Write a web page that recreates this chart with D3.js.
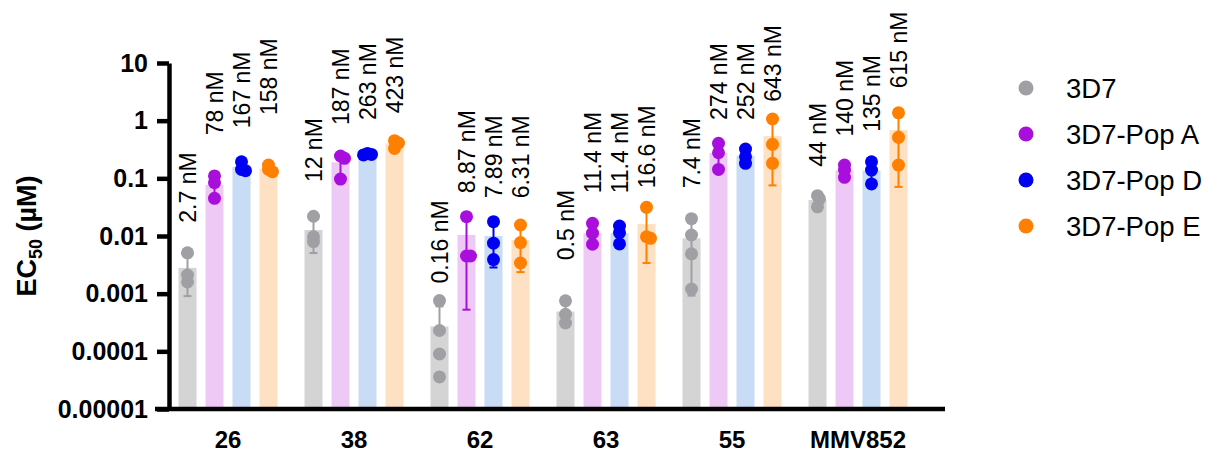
<!DOCTYPE html>
<html>
<head>
<meta charset="utf-8">
<script src="https://cdn.jsdelivr.net/npm/d3@7"></script>
<style>
  html, body { margin: 0; padding: 0; background: #fff; }
  svg { display: block; }
  text { font-family: "Liberation Sans", Arial, sans-serif; }
</style>
</head>
<body>
<svg id="chart" width="1208" height="453"></svg>
<script>
// ---------------- data ----------------
const groups = ["26", "38", "62", "63", "55", "MMV852"];
const seriesNames = ["3D7", "3D7-Pop A", "3D7-Pop D", "3D7-Pop E"];

// bar heights (mean EC50, µM)
const mean3D7  = [0.0028, 0.0127, 0.00027, 0.00049, 0.0091, 0.042];
const meanPopA = [0.077, 0.19, 0.0104, 0.0112, 0.275, 0.138];
const meanPopD = [0.158, 0.255, 0.0100, 0.0112, 0.247, 0.137];
const meanPopE = [0.148, 0.40, 0.0085, 0.0161, 0.54, 0.689];

// individual replicate values (µM)
const pts3D7 = [
  [0.0051, 0.0021, 0.0016],
  [0.022, 0.0097, 0.0080],
  [0.00076, 0.00023, 0.00009, 0.000036],
  [0.00075, 0.00044, 0.00031],
  [0.020, 0.0104, 0.0049, 0.0012],
  [0.050, 0.044, 0.032]
];
const ptsPopA = [
  [0.11, 0.084, 0.045],
  [0.244, 0.222, 0.097],
  [0.0216, 0.0045, 0.0045],
  [0.0166, 0.0112, 0.0072],
  [0.405, 0.278, 0.143],
  [0.170, 0.139, 0.104]
];
const ptsPopD = [
  [0.194, 0.143, 0.136],
  [0.27, 0.26, 0.255],
  [0.0177, 0.0075, 0.0039],
  [0.0149, 0.0114, 0.0073],
  [0.322, 0.237, 0.182],
  [0.194, 0.139, 0.080]
];
const ptsPopE = [
  [0.170, 0.143, 0.130],
  [0.45, 0.41, 0.33],
  [0.0155, 0.0077, 0.0034],
  [0.0314, 0.0097, 0.0091],
  [1.07, 0.389, 0.182],
  [1.37, 0.514, 0.170]
];

// annotation texts
const lbl3D7  = ["2.7 nM", "12 nM", "0.16 nM", "0.5 nM", "7.4 nM", "44 nM"];
const lblPopA = ["78 nM", "187 nM", "8.87 nM", "11.4 nM", "274 nM", "140 nM"];
const lblPopD = ["167 nM", "263 nM", "7.89 nM", "11.4 nM", "252 nM", "135 nM"];
const lblPopE = ["158 nM", "423 nM", "6.31 nM", "16.6 nM", "643 nM", "615 nM"];
// annotation anchor (value on the y axis, µM, where each label begins)
const at3D7  = [0.017, 0.086, 0.0015, 0.0038, 0.067, 0.159];
const atPopA = [0.56, 0.84, 0.055, 0.055, 1.03, 0.53];
const atPopD = [0.74, 1.03, 0.045, 0.055, 1.03, 0.64];
const atPopE = [1.25, 1.34, 0.045, 0.067, 2.13, 3.64];

const yTicks = [10, 1, 0.1, 0.01, 0.001, 0.0001, 0.00001];
const yTickLabels = ["10", "1", "0.1", "0.01", "0.001", "0.0001", "0.00001"];

// ---------------- styles ----------------
const barColors = ["#d4d4d4", "#efc9f6", "#c8dcf6", "#fee0c2"];
const dotColors = ["#a0a0a4", "#a80fdc", "#0000f2", "#ff8000"];

const allMeans = [mean3D7, meanPopA, meanPopD, meanPopE];
const allPts = [pts3D7, ptsPopA, ptsPopD, ptsPopE];
const allLbl = [lbl3D7, lblPopA, lblPopD, lblPopE];
const allAt = [at3D7, atPopA, atPopD, atPopE];

const svg = d3.select("#chart");
svg.append("rect").attr("width", 1208).attr("height", 453).attr("fill", "#fff");

const y = d3.scaleLog().domain([0.00001, 10]).range([409, 63]);
const x0 = d3.scaleBand().domain(groups).range([165, 921]).padding(0);
const x1 = d3.scaleBand().domain(seriesNames).range([-54, 54])
  .paddingInner(1 / 3).paddingOuter(1 / 6);

const axisX = 169;
const base = y(0.00001);

// bars
const gBars = svg.append("g");
seriesNames.forEach((s, si) => {
  gBars.selectAll(null).data(groups).enter().append("rect")
    .attr("x", g => x0(g) + x0.bandwidth() / 2 + x1(s))
    .attr("width", x1.bandwidth())
    .attr("y", (g, gi) => y(allMeans[si][gi]))
    .attr("height", (g, gi) => base - y(allMeans[si][gi]))
    .attr("fill", barColors[si]);
});

// error bars (mean ± SD of replicates)
const gErr = svg.append("g");
seriesNames.forEach((s, si) => {
  groups.forEach((g, gi) => {
    const cx = x0(g) + x0.bandwidth() / 2 + x1(s) + x1.bandwidth() / 2;
    const m = allMeans[si][gi];
    const sd = d3.deviation(allPts[si][gi]);
    const hi = m + sd, lo = m - sd;
    const col = dotColors[si];
    const yTop = y(hi);
    const yBot = lo > 0 ? y(lo) : y(m);
    gErr.append("line").attr("x1", cx).attr("x2", cx).attr("y1", yTop).attr("y2", yBot)
      .attr("stroke", col).attr("stroke-width", 2);
    gErr.append("line").attr("x1", cx - 4).attr("x2", cx + 4).attr("y1", yTop).attr("y2", yTop)
      .attr("stroke", col).attr("stroke-width", 2);
    if (lo > 0) {
      gErr.append("line").attr("x1", cx - 4).attr("x2", cx + 4).attr("y1", yBot).attr("y2", yBot)
        .attr("stroke", col).attr("stroke-width", 2);
    }
  });
});

// points with a light dodge for overlapping replicates
const R = 6.5;
const gPts = svg.append("g");
seriesNames.forEach((s, si) => {
  groups.forEach((g, gi) => {
    const cx = x0(g) + x0.bandwidth() / 2 + x1(s) + x1.bandwidth() / 2;
    const vals = allPts[si][gi].map(v => ({ v, py: y(v) })).sort((a, b) => a.py - b.py);
    const placed = [];
    vals.forEach(p => {
      const cands = [0, 1, -1, 2, -2, 3, -3, 4, -4];
      let off = 0;
      for (const k of cands) {
        const o = k * 2;
        if (placed.every(q => Math.hypot(q.o - o, q.py - p.py) >= 3.5)) { off = o; break; }
      }
      placed.push({ o: off, py: p.py });
      gPts.append("circle").attr("cx", cx + off).attr("cy", p.py).attr("r", R)
        .attr("fill", dotColors[si]);
    });
  });
});

// annotations
const gLbl = svg.append("g");
seriesNames.forEach((s, si) => {
  groups.forEach((g, gi) => {
    const cx = x0(g) + x0.bandwidth() / 2 + x1(s) + x1.bandwidth() / 2;
    gLbl.append("text")
      .attr("transform", `translate(${cx + 8},${y(allAt[si][gi])}) rotate(-90)`)
      .attr("text-anchor", "start")
      .attr("font-size", 23)
      .attr("fill", "#000")
      .text(allLbl[si][gi]);
  });
});

// y axis
const yAxis = d3.axisLeft(y).tickValues(yTicks)
  .tickFormat((d, i) => yTickLabels[i]).tickSize(12).tickSizeOuter(0).tickPadding(9);
const gy = svg.append("g").attr("transform", `translate(${axisX},0)`).call(yAxis);
gy.select(".domain").attr("stroke", "#000").attr("stroke-width", 4.5);
gy.selectAll(".tick line").attr("stroke", "#000").attr("stroke-width", 4.5);
gy.selectAll(".tick text").attr("font-size", 25).attr("font-weight", "bold")
  .attr("fill", "#000").attr("font-family", "'Liberation Sans', Arial, sans-serif");

// x axis line
svg.append("line").attr("x1", 155).attr("x2", 945).attr("y1", base).attr("y2", base)
  .attr("stroke", "#000").attr("stroke-width", 4.5);
const xAxis = d3.axisBottom(x0).tickSize(0).tickPadding(22);
const gx = svg.append("g").attr("transform", `translate(0,${base})`).call(xAxis);
gx.select(".domain").remove();
gx.selectAll(".tick text").attr("font-size", 24).attr("font-weight", "bold")
  .attr("fill", "#000").attr("font-family", "'Liberation Sans', Arial, sans-serif");

// y title
const yt = svg.append("text")
  .attr("transform", `translate(36,236) rotate(-90)`)
  .attr("text-anchor", "middle").attr("font-size", 27).attr("font-weight", "bold");
yt.append("tspan").text("EC");
yt.append("tspan").attr("font-size", 18).attr("dy", 6).text("50");
yt.append("tspan").attr("dy", -6).text(" (µM)");

// legend
const lg = svg.append("g");
seriesNames.forEach((s, i) => {
  const ly = 88 + i * 46;
  lg.append("circle").attr("cx", 1026).attr("cy", ly).attr("r", 7.5).attr("fill", dotColors[i]);
  lg.append("text").attr("x", 1066).attr("y", ly).attr("dy", "0.35em")
    .attr("font-size", 27.5).attr("fill", "#000").text(s);
});
</script>
</body>
</html>
